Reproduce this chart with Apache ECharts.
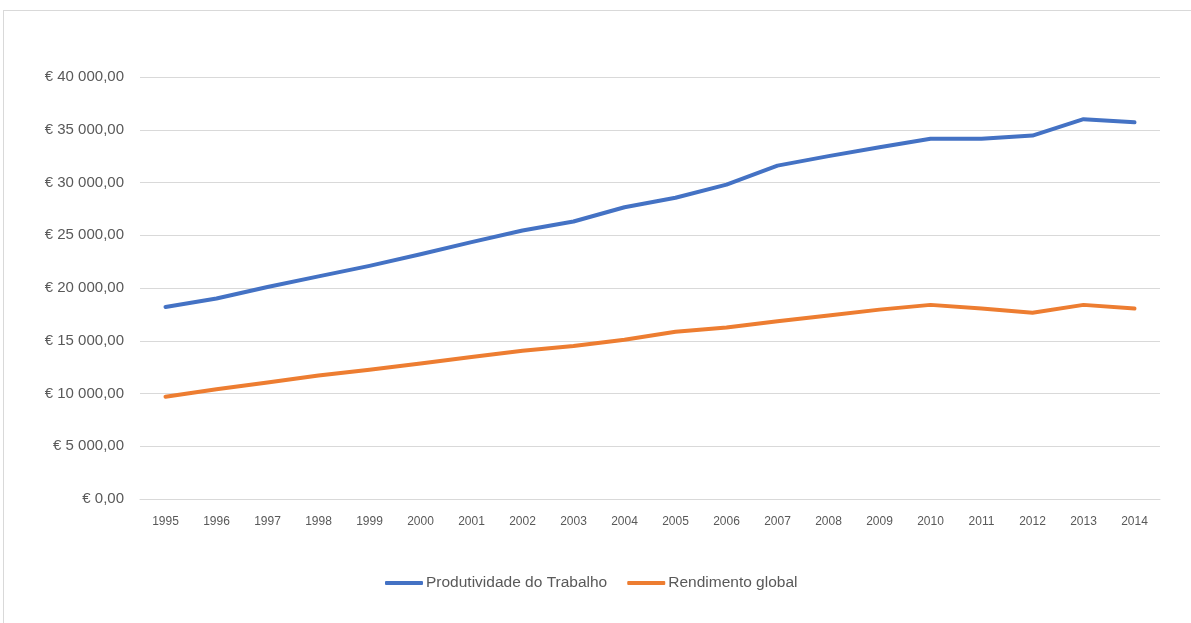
<!DOCTYPE html>
<html>
<head>
<meta charset="utf-8">
<script src="https://cdn.jsdelivr.net/npm/echarts@6/dist/echarts.min.js"></script>
<style>
  html, body {
    margin: 0;
    padding: 0;
    background: #fff;
    overflow: hidden;
  }
  .frame {
    position: absolute;
    left: 3px;
    top: 10px;
    width: 1200px;
    height: 630px;
    border: 1px solid #d9d9d9;
  }
  #chart {
    position: absolute;
    left: 0;
    top: 0;
    width: 1191px;
    height: 623px;
  }
</style>
</head>
<body>
<div class="frame"></div>
<div id="chart"></div>
<script>
// anos
const years = ["1995", "1996", "1997", "1998", "1999", "2000", "2001", "2002", "2003", "2004",
  "2005", "2006", "2007", "2008", "2009", "2010", "2011", "2012", "2013", "2014"];

// Produtividade do Trabalho
const produtividade = [18200, 19000, 20100, 21100, 22100, 23200, 24350, 25450, 26300, 27650,
  28550, 29800, 31600, 32500, 33350, 34150, 34150, 34450, 36000, 35700];

// Rendimento global
const rendimento = [9700, 10400, 11050, 11700, 12250, 12850, 13450, 14050, 14500, 15100,
  15850, 16250, 16850, 17400, 17950, 18400, 18050, 17650, 18400, 18050];

const yTicks = [0, 5000, 10000, 15000, 20000, 25000, 30000, 35000, 40000];

function euro(v) {
  // formato pt: € 40 000,00
  let s = String(Math.round(v)).replace(/\B(?=(\d{3})+(?!\d))/g, " ");
  return "€ " + s + ",00";
}

let chart = echarts.init(document.getElementById("chart"));
const fontFamily = "'Liberation Sans', Arial, sans-serif";

chart.setOption({
  animation: false,
  color: ["#4472C4", "#ED7D31"],
  grid: {
    left: 140,
    right: 31,
    top: 77,
    bottom: 124,
    containLabel: false,
  },
  legend: {
    bottom: 27,
    left: 380,
    icon: "roundRect",
    itemWidth: 38,
    itemHeight: 4,
    itemGap: 20,
    textStyle: {
      color: "#595959",
      fontSize: 15.5,
      fontFamily: fontFamily,
      padding: [0, 0, 0, -2],
    },
    data: ["Produtividade do Trabalho", "Rendimento global"],
  },
  xAxis: {
    type: "category",
    data: years,
    boundaryGap: true,
    axisLine: { show: true, lineStyle: { color: "#d9d9d9", width: 1 } },
    axisTick: { show: false },
    axisLabel: {
      color: "#595959",
      fontSize: 12,
      fontFamily: fontFamily,
      margin: 17,
    },
  },
  yAxis: {
    type: "value",
    min: yTicks[0],
    max: yTicks[yTicks.length - 1],
    interval: 5000,
    axisLine: { show: false },
    axisTick: { show: false },
    axisLabel: {
      color: "#595959",
      fontSize: 15,
      fontFamily: fontFamily,
      margin: 16,
      formatter: euro,
    },
    splitLine: {
      show: true,
      lineStyle: { color: "#d9d9d9", width: 1 },
    },
  },
  series: [
    {
      name: "Produtividade do Trabalho",
      type: "line",
      data: produtividade,
      symbol: "none",
      lineStyle: { width: 4, cap: "round", join: "round" },
    },
    {
      name: "Rendimento global",
      type: "line",
      data: rendimento,
      symbol: "none",
      lineStyle: { width: 4, cap: "round", join: "round" },
    },
  ],
});
</script>
</body>
</html>
